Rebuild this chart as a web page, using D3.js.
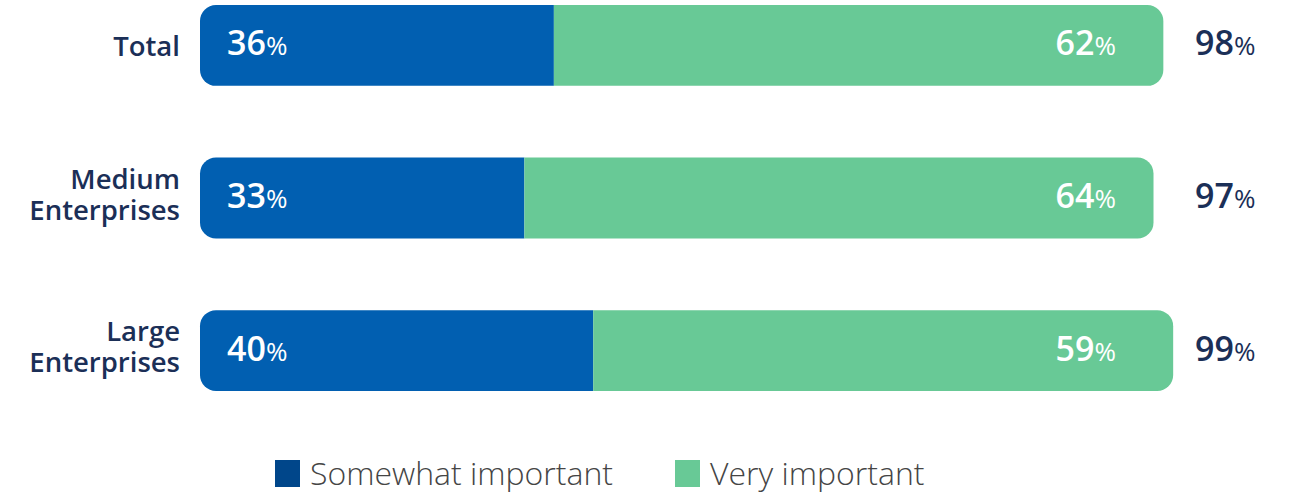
<!DOCTYPE html>
<html>
<head>
<meta charset="utf-8">
<script src="https://cdn.jsdelivr.net/npm/d3@7"></script>
<style>
  html, body { margin: 0; padding: 0; background: #ffffff; }
  svg { display: block; font-family: "Open Sans", Lato, sans-serif; }
</style>
</head>
<body>
<svg id="chart" width="1294" height="493"></svg>
<script>
// Share of respondents rating the topic as important, by company size
const categories = ["Total", "Medium Enterprises", "Large Enterprises"];
const categoryLines = [["Total"], ["Medium", "Enterprises"], ["Large", "Enterprises"]];
const somewhatImportant = [36, 33, 40];
const veryImportant = [62, 64, 59];
const totals = [98, 97, 99];
const seriesNames = ["Somewhat important", "Very important"];

const colors = { somewhat: "#015fb1", very: "#68c996", legendSomewhat: "#00468a", text: "#1b2f57", legendText: "#454545" };

const svg = d3.select("#chart");

const x = d3.scaleLinear().domain([0, 100]).range([200, 1183]);
const y = d3.scaleBand().domain(categories).range([5, 391]).paddingInner(0.47).paddingOuter(0);
const bh = y.bandwidth();
const r = 16;

// rectangle path with only the chosen side's corners rounded
function roundedBar(x0, x1, y0, h, side) {
  const p = d3.path();
  if (side === "left") {
    p.moveTo(x1, y0);
    p.lineTo(x0 + r, y0);
    p.arcTo(x0, y0, x0, y0 + r, r);
    p.lineTo(x0, y0 + h - r);
    p.arcTo(x0, y0 + h, x0 + r, y0 + h, r);
    p.lineTo(x1, y0 + h);
  } else {
    p.moveTo(x0, y0);
    p.lineTo(x1 - r, y0);
    p.arcTo(x1, y0, x1, y0 + r, r);
    p.lineTo(x1, y0 + h - r);
    p.arcTo(x1, y0 + h, x1 - r, y0 + h, r);
    p.lineTo(x0, y0 + h);
  }
  p.closePath();
  return p.toString();
}

const rows = categories.map((c, i) => ({
  cat: c, lines: categoryLines[i], s: somewhatImportant[i], v: veryImportant[i], t: totals[i]
}));

const g = svg.append("g");

// bars
g.selectAll("path.somewhat").data(rows).join("path")
  .attr("class", "somewhat")
  .attr("fill", colors.somewhat)
  .attr("d", d => roundedBar(x(0), x(d.s), y(d.cat), bh, "left"));

g.selectAll("path.very").data(rows).join("path")
  .attr("class", "very")
  .attr("fill", colors.very)
  .attr("d", d => roundedBar(x(d.s), x(d.s + d.v), y(d.cat), bh, "right"));

function pctText(sel) {
  sel.append("tspan").attr("font-size", 34).attr("font-weight", 600).text(d => d.val);
  sel.append("tspan").attr("font-size", 26).attr("font-weight", 400).text("%");
}

// value labels inside the bars
g.selectAll("text.lab-s").data(rows).join("text")
  .attr("class", "lab-s")
  .attr("x", x(0) + 27)
  .attr("y", d => y(d.cat) + bh / 2 + 10)
  .attr("fill", "#ffffff")
  .datum(d => ({ ...d, val: d.s }))
  .call(pctText);

g.selectAll("text.lab-v").data(rows).join("text")
  .attr("class", "lab-v")
  .attr("x", x(100) - 67)
  .attr("y", d => y(d.cat) + bh / 2 + 10)
  .attr("text-anchor", "end")
  .attr("fill", "#ffffff")
  .datum(d => ({ ...d, val: d.v }))
  .call(pctText);

// totals to the right of the bars
g.selectAll("text.lab-t").data(rows).join("text")
  .attr("class", "lab-t")
  .attr("x", x(100) + 12)
  .attr("y", d => y(d.cat) + bh / 2 + 10)
  .attr("fill", colors.text)
  .datum(d => ({ ...d, val: d.t }))
  .call(pctText);

// category labels, wrapped onto stacked lines
const lh = 31;
g.selectAll("text.cat").data(rows).join("text")
  .attr("class", "cat")
  .attr("text-anchor", "end")
  .attr("fill", colors.text)
  .attr("font-size", 27.5)
  .attr("font-weight", 600)
  .each(function (d) {
    const n = d.lines.length;
    const base = y(d.cat) + bh / 2 + 11 - (n - 1) * (lh / 2 + 5);
    d3.select(this).selectAll("tspan").data(d.lines).join("tspan")
      .attr("x", 180)
      .attr("y", (l, j) => base + j * lh)
      .text(l => l);
  });

// legend
const legendItems = [
  { name: seriesNames[0], color: colors.legendSomewhat, x: 275 },
  { name: seriesNames[1], color: colors.very, x: 675 }
];
const lg = svg.append("g").selectAll("g").data(legendItems).join("g")
  .attr("transform", d => `translate(${d.x},0)`);
lg.append("rect").attr("x", 0).attr("y", 460).attr("width", 25).attr("height", 27).attr("fill", d => d.color);
lg.append("text").attr("x", 35).attr("y", 485)
  .attr("font-size", 32).attr("font-weight", 300).attr("fill", colors.legendText)
  .text(d => d.name);
</script>
</body>
</html>
